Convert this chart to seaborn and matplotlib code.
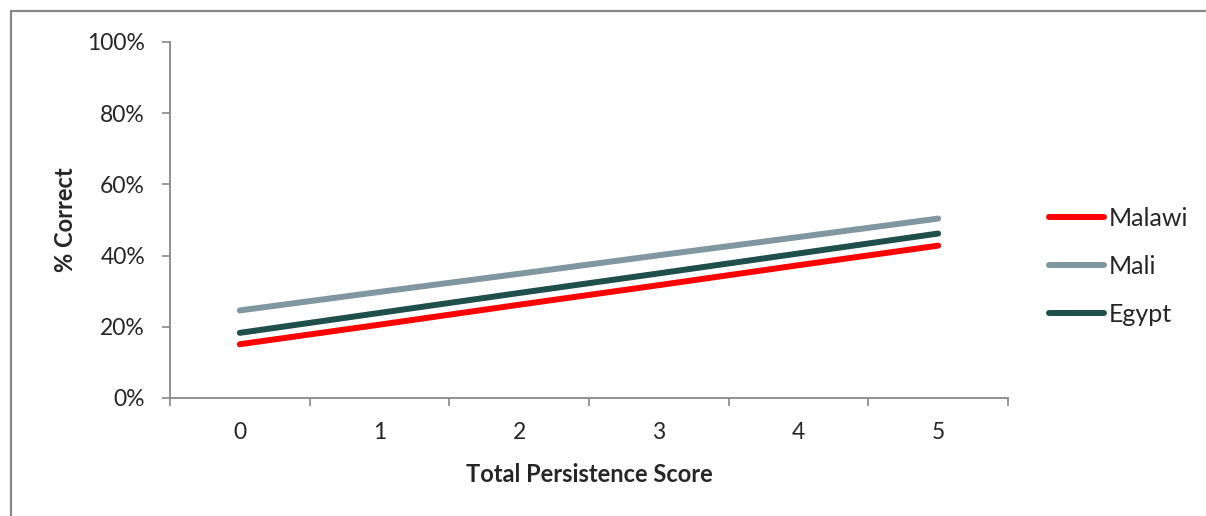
import matplotlib
matplotlib.use("Agg")
import matplotlib.pyplot as plt
import seaborn as sns
import pandas as pd
from matplotlib.lines import Line2D
from matplotlib.ticker import FixedLocator, PercentFormatter

scores = [0, 1, 2, 3, 4, 5]
malawi = [15.1, 20.6, 26.2, 31.7, 37.3, 42.8]
mali = [24.6, 29.8, 34.9, 40.1, 45.2, 50.4]
egypt = [18.3, 23.9, 29.5, 35.0, 40.6, 46.2]
countries = ["Malawi", "Mali", "Egypt"]
colors = {"Malawi": "#FF0000", "Mali": "#8096A0", "Egypt": "#1F4F4B"}

df = pd.concat([
    pd.DataFrame({"score": scores, "pct": vals, "country": name})
    for name, vals in zip(countries, [malawi, mali, egypt])
])

sns.set_theme(style="white")
plt.rcParams["font.family"] = ["Lato", "DejaVu Sans"]

fig = plt.figure(figsize=(12.06, 5.16), dpi=100)
ax = fig.add_axes([170/1206, 1-398/516, (1008-170)/1206, (398-42)/516])

sns.lineplot(data=df, x="score", y="pct", hue="country", hue_order=countries,
             palette=colors, linewidth=4.3, ax=ax, legend=True)
for ln in ax.get_lines():
    ln.set_solid_capstyle("round")

ax.set_xlim(-0.5, 5.5)
ax.set_ylim(0, 100)
ax.xaxis.set_major_locator(FixedLocator([i - 0.5 for i in range(7)]))
ax.xaxis.set_minor_locator(FixedLocator(scores))
ax.set_xticklabels([])
ax.set_xticklabels([str(s) for s in scores], minor=True)
ax.tick_params(axis="x", which="major", length=6, width=1.2, color="#888888", direction="out", bottom=True)
ax.tick_params(axis="x", which="minor", length=0, labelsize=16.5, pad=17.5, bottom=True)
ax.set_yticks([0, 20, 40, 60, 80, 100])
ax.yaxis.set_major_formatter(PercentFormatter(decimals=0))
ax.tick_params(axis="y", length=6, width=1.2, color="#888888", direction="out", labelsize=16.5, pad=12, left=True)

for s in ["top", "right"]:
    ax.spines[s].set_visible(False)
for s in ["left", "bottom"]:
    ax.spines[s].set_color("#888888")
    ax.spines[s].set_linewidth(1.3)

ax.set_xlabel("Total Persistence Score", fontsize=17, fontweight="bold", labelpad=14.5)
ax.set_ylabel("% Correct", fontsize=17, fontweight="bold", labelpad=7)

handles, labels = ax.get_legend_handles_labels()
for h in handles:
    h.set_linewidth(4.3)
    h.set_solid_capstyle("round")
ax.legend(handles, labels, loc="center left", bbox_to_anchor=(1036/1206, 1-266/516),
          bbox_transform=fig.transFigure, frameon=False, fontsize=18,
          handlelength=2.2, handletextpad=0.2, labelspacing=1.0, borderpad=0)

fig.add_artist(Line2D([11/1206, 1.01], [1-11/516, 1-11/516], color="#888888", linewidth=1.6, transform=fig.transFigure))
fig.add_artist(Line2D([11/1206, 11/1206], [1-11/516, -0.01], color="#888888", linewidth=1.6, transform=fig.transFigure))

fig.savefig("out.png", dpi=100)
